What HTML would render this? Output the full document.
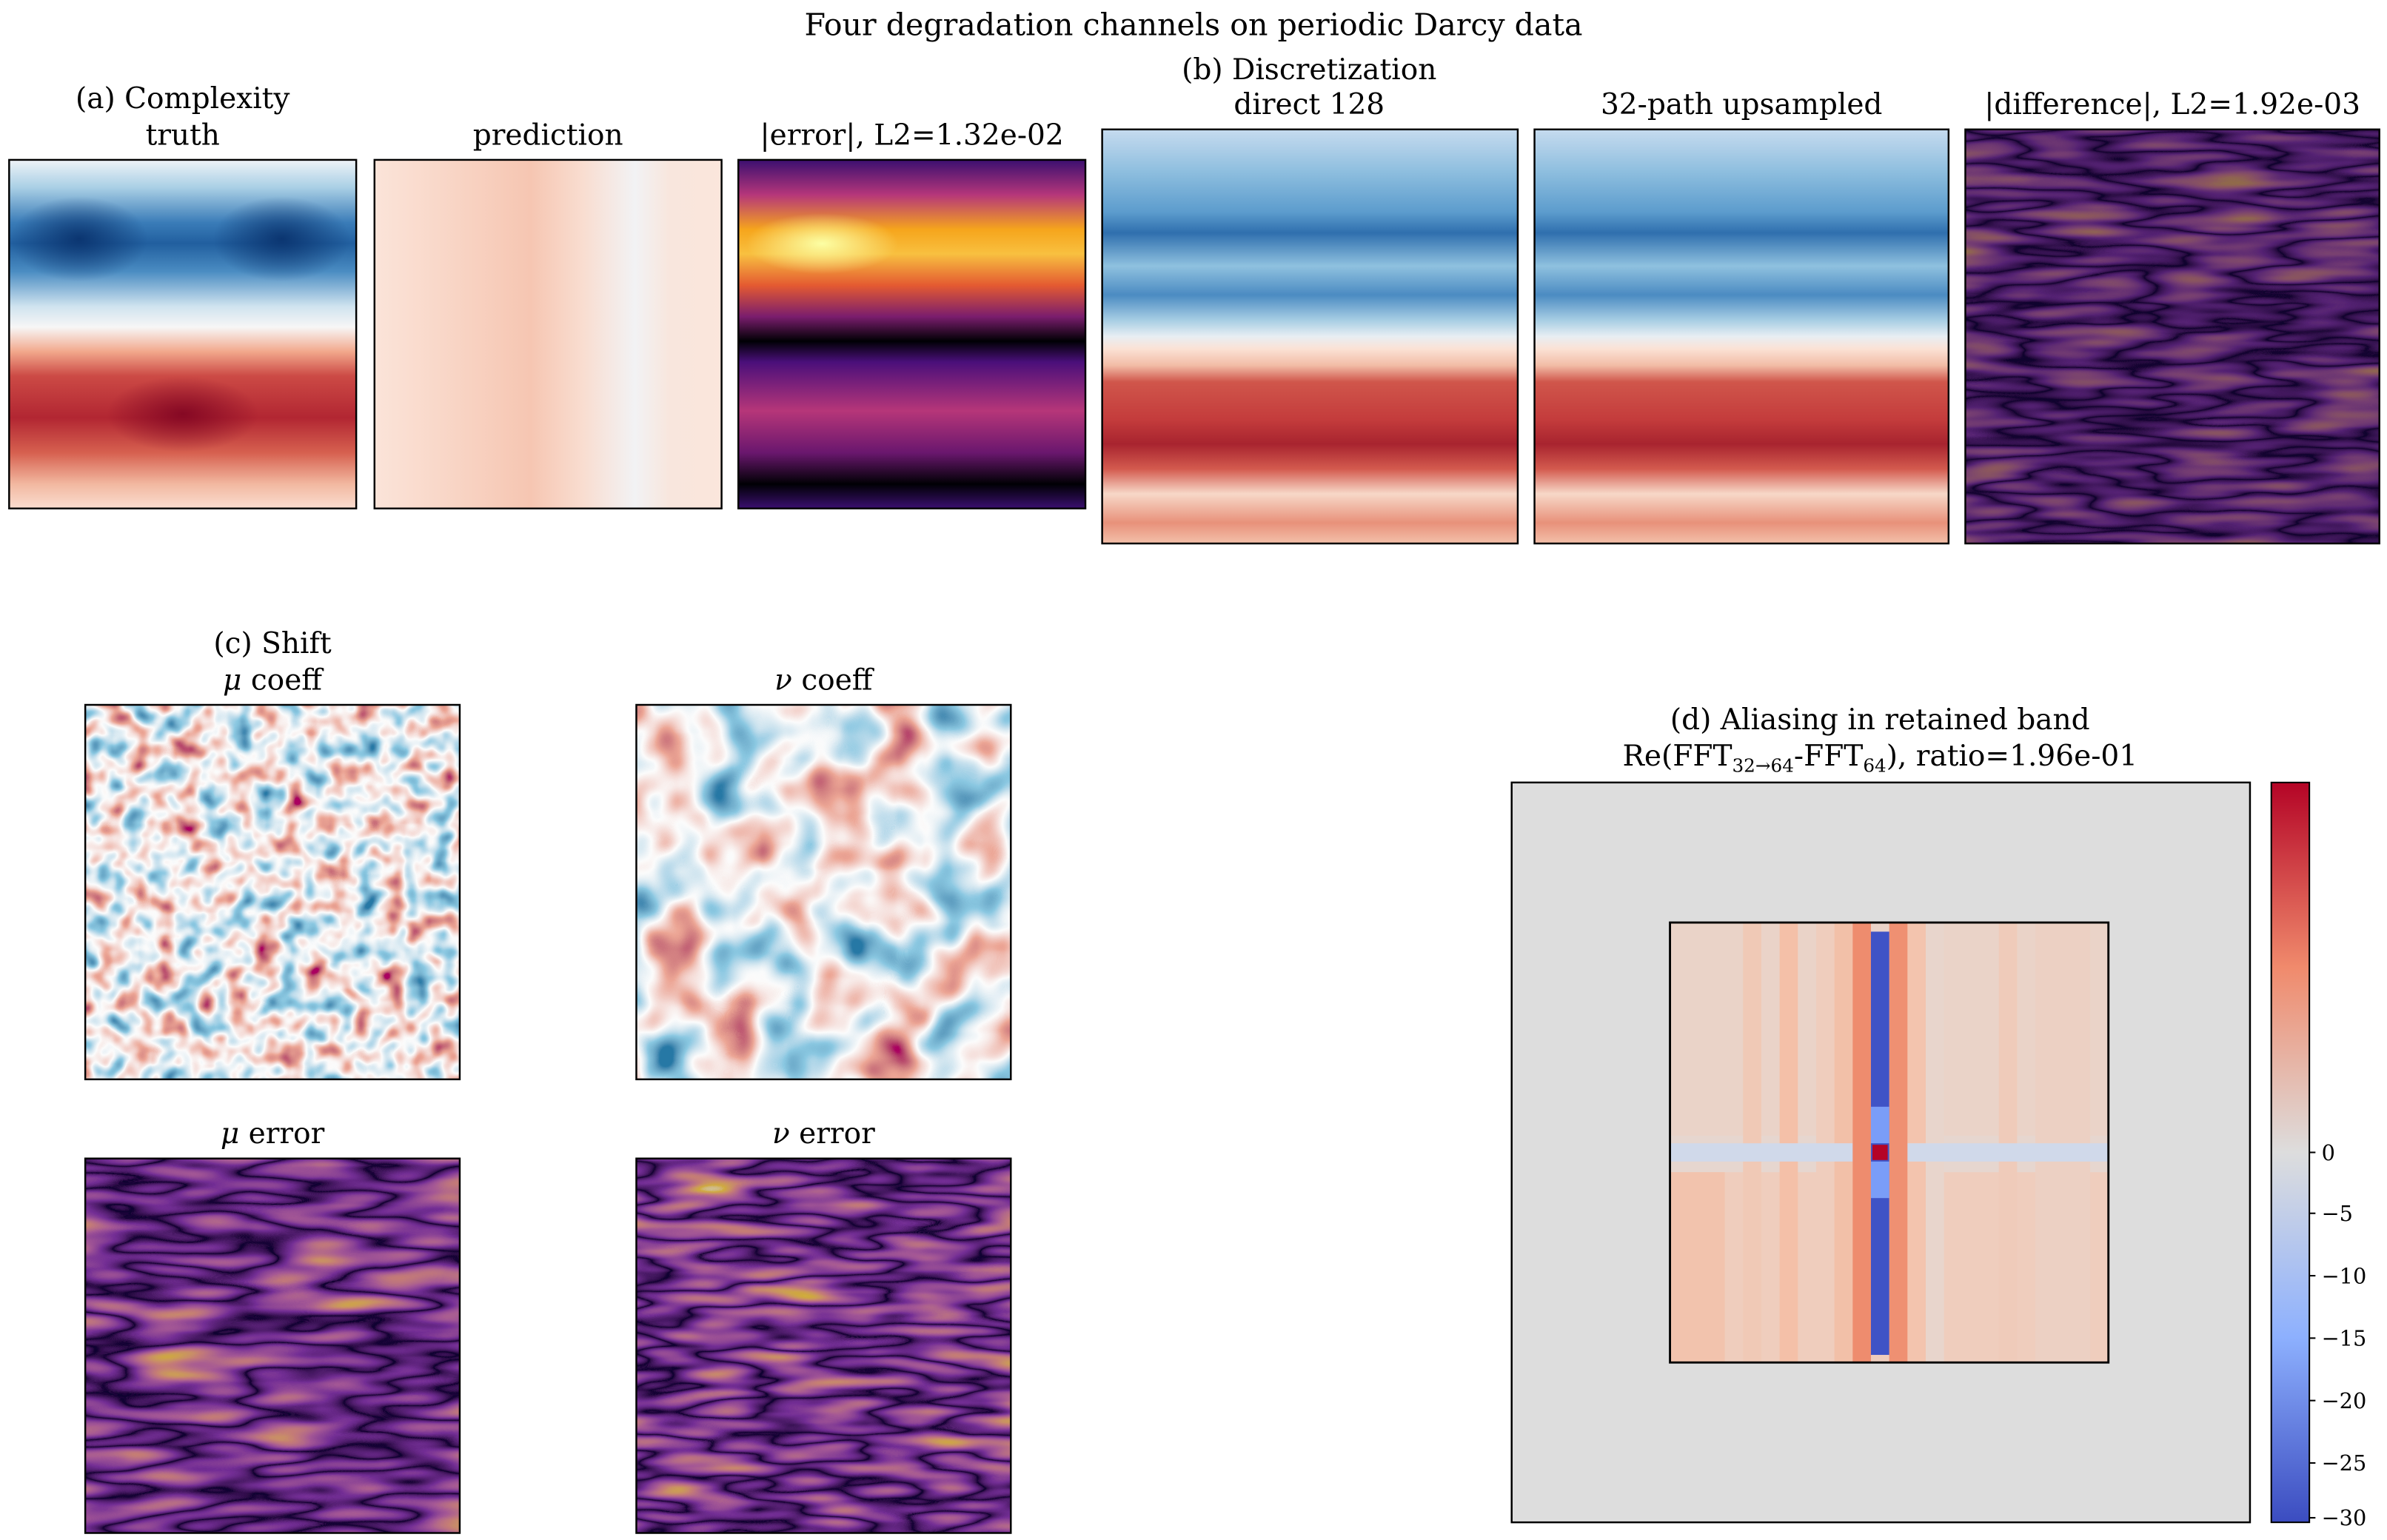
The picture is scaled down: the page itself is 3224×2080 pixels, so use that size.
<!DOCTYPE html>
<html><head><meta charset="utf-8"><style>html,body{margin:0;padding:0;background:#fff}svg{display:block}text{font-family:"DejaVu Serif","Liberation Serif",serif;fill:#000}</style></head><body>
<svg width="3224" height="2080" viewBox="0 0 1568 1011.6" xmlns="http://www.w3.org/2000/svg">
<defs>
<linearGradient id="gTruth" x1="0" y1="0" x2="0" y2="1">
<stop offset="0" stop-color="#eef3f7"/><stop offset="0.08" stop-color="#a9cfe5"/><stop offset="0.18" stop-color="#3a7cb8"/><stop offset="0.24" stop-color="#215f9f"/><stop offset="0.32" stop-color="#4a8cc2"/><stop offset="0.42" stop-color="#cfe3ef"/><stop offset="0.48" stop-color="#f7f6f6"/><stop offset="0.55" stop-color="#f2a88c"/><stop offset="0.62" stop-color="#cc4a45"/><stop offset="0.74" stop-color="#b22632"/><stop offset="0.84" stop-color="#d6604f"/><stop offset="0.93" stop-color="#f2b8a0"/><stop offset="1" stop-color="#faddd0"/></linearGradient>
<radialGradient id="bBlue"><stop offset="0" stop-color="#08306b" stop-opacity="0.9"/><stop offset="1" stop-color="#08306b" stop-opacity="0"/></radialGradient>
<radialGradient id="bRed"><stop offset="0" stop-color="#7a0020" stop-opacity="0.8"/><stop offset="1" stop-color="#7a0020" stop-opacity="0"/></radialGradient>
<linearGradient id="gPred" x1="0" y1="0" x2="1" y2="0">
<stop offset="0" stop-color="#fbe4d9"/><stop offset="0.45" stop-color="#f6c6b2"/><stop offset="0.6" stop-color="#f9ddd0"/><stop offset="0.75" stop-color="#f2f2f4"/><stop offset="0.85" stop-color="#f8e6dd"/><stop offset="1" stop-color="#fbe6dc"/></linearGradient>
<linearGradient id="gErr" x1="0" y1="0" x2="0" y2="1">
<stop offset="0" stop-color="#3b0f70"/><stop offset="0.1" stop-color="#b5367a"/><stop offset="0.2" stop-color="#f6a51c"/><stop offset="0.27" stop-color="#f8c040"/><stop offset="0.36" stop-color="#e45a31"/><stop offset="0.45" stop-color="#7a1d6d"/><stop offset="0.52" stop-color="#000004"/><stop offset="0.58" stop-color="#4a0f7a"/><stop offset="0.72" stop-color="#b63679"/><stop offset="0.84" stop-color="#6a176e"/><stop offset="0.93" stop-color="#000004"/><stop offset="1" stop-color="#3b0f70"/></linearGradient>
<radialGradient id="bYel"><stop offset="0" stop-color="#fcffa4"/><stop offset="1" stop-color="#fcffa4" stop-opacity="0"/></radialGradient>
<linearGradient id="gDisc" x1="0" y1="0" x2="0" y2="1">
<stop offset="0" stop-color="#c6dbef"/><stop offset="0.1" stop-color="#8fbfdf"/><stop offset="0.2" stop-color="#5c9ccd"/><stop offset="0.25" stop-color="#2f6fae"/><stop offset="0.33" stop-color="#8fc1df"/><stop offset="0.4" stop-color="#4b8bc2"/><stop offset="0.46" stop-color="#a6cde3"/><stop offset="0.5" stop-color="#e8eef3"/><stop offset="0.53" stop-color="#fbe2d5"/><stop offset="0.57" stop-color="#f2bca6"/><stop offset="0.61" stop-color="#d0564b"/><stop offset="0.7" stop-color="#c43c3c"/><stop offset="0.76" stop-color="#a8242f"/><stop offset="0.82" stop-color="#d35a4e"/><stop offset="0.88" stop-color="#f7d8c8"/><stop offset="0.95" stop-color="#e8917a"/><stop offset="1" stop-color="#f3c0aa"/></linearGradient>
<linearGradient id="gCb" x1="0" y1="0" x2="0" y2="1">
<stop offset="0" stop-color="#b40426"/><stop offset="0.25" stop-color="#f08a6c"/><stop offset="0.5" stop-color="#dddddd"/><stop offset="0.75" stop-color="#8db0fe"/><stop offset="1" stop-color="#3b4cc0"/></linearGradient>
<filter id="fRdBu1" x="0" y="0" width="100%" height="100%"><feTurbulence type="fractalNoise" baseFrequency="0.06" numOctaves="2" seed="4"/><feColorMatrix type="matrix" values="1.5 0 0 0 -0.25 1.5 0 0 0 -0.25 1.5 0 0 0 -0.25 0 0 0 0 1"/><feComponentTransfer><feFuncR type="table" tableValues="0.02 0.26 0.97 0.84 0.40"/><feFuncG type="table" tableValues="0.19 0.58 0.97 0.38 0.0"/><feFuncB type="table" tableValues="0.38 0.76 0.97 0.30 0.12"/></feComponentTransfer></filter>
<filter id="fRdBu2" x="0" y="0" width="100%" height="100%"><feTurbulence type="fractalNoise" baseFrequency="0.028" numOctaves="2" seed="9"/><feColorMatrix type="matrix" values="1.5 0 0 0 -0.25 1.5 0 0 0 -0.25 1.5 0 0 0 -0.25 0 0 0 0 1"/><feComponentTransfer><feFuncR type="table" tableValues="0.02 0.26 0.97 0.84 0.40"/><feFuncG type="table" tableValues="0.19 0.58 0.97 0.38 0.0"/><feFuncB type="table" tableValues="0.38 0.76 0.97 0.30 0.12"/></feComponentTransfer></filter>
<filter id="fInf1" x="0" y="0" width="100%" height="100%"><feTurbulence type="fractalNoise" baseFrequency="0.012 0.06" numOctaves="2" seed="2"/><feColorMatrix type="matrix" values="1.15 0 0 0 -0.075 1.15 0 0 0 -0.075 1.15 0 0 0 -0.075 0 0 0 0 1"/><feComponentTransfer><feFuncR type="table" tableValues=".99 .99 .87 .58 .26 0 .26 .58 .87 .99 .99"/><feFuncG type="table" tableValues="1 .65 .32 .15 .04 0 .04 .15 .32 .65 1"/><feFuncB type="table" tableValues=".64 .04 .23 .40 .41 .02 .41 .40 .23 .04 .64"/></feComponentTransfer></filter>
<filter id="fInf2" x="0" y="0" width="100%" height="100%"><feTurbulence type="fractalNoise" baseFrequency="0.014 0.07" numOctaves="2" seed="7"/><feColorMatrix type="matrix" values="1.15 0 0 0 -0.075 1.15 0 0 0 -0.075 1.15 0 0 0 -0.075 0 0 0 0 1"/><feComponentTransfer><feFuncR type="table" tableValues=".99 .99 .87 .58 .26 0 .26 .58 .87 .99 .99"/><feFuncG type="table" tableValues="1 .65 .32 .15 .04 0 .04 .15 .32 .65 1"/><feFuncB type="table" tableValues=".64 .04 .23 .40 .41 .02 .41 .40 .23 .04 .64"/></feComponentTransfer></filter>
<filter id="fInf3" x="0" y="0" width="100%" height="100%"><feTurbulence type="fractalNoise" baseFrequency="0.012 0.08" numOctaves="2" seed="13"/><feColorMatrix type="matrix" values="1.0 0 0 0 0 1.0 0 0 0 0 1.0 0 0 0 0 0 0 0 0 1"/><feComponentTransfer><feFuncR type="table" tableValues=".99 .99 .87 .58 .26 0 .26 .58 .87 .99 .99"/><feFuncG type="table" tableValues="1 .65 .32 .15 .04 0 .04 .15 .32 .65 1"/><feFuncB type="table" tableValues=".64 .04 .23 .40 .41 .02 .41 .40 .23 .04 .64"/></feComponentTransfer></filter>
<clipPath id="cT"><rect x="6" y="105" width="228" height="229"/></clipPath>
<clipPath id="cE"><rect x="485" y="105" width="228" height="229"/></clipPath>
</defs>

<text x="784" y="23" font-size="20" text-anchor="middle">Four degradation channels on periodic Darcy data</text>

<text x="120" y="71" font-size="19" text-anchor="middle">(a) Complexity</text>
<text x="120" y="95" font-size="19" text-anchor="middle">truth</text>
<g clip-path="url(#cT)">
<rect x="6" y="105" width="228" height="229" fill="url(#gTruth)"/>
<ellipse cx="52" cy="157" rx="45" ry="28" fill="url(#bBlue)"/>
<ellipse cx="185" cy="157" rx="45" ry="28" fill="url(#bBlue)"/>
<ellipse cx="120" cy="272" rx="50" ry="25" fill="url(#bRed)"/>
</g>
<rect x="6" y="105" width="228" height="229" fill="none" stroke="#000" stroke-width="1.2"/>
<text x="360" y="95" font-size="19" text-anchor="middle">prediction</text>
<rect x="246" y="105" width="228" height="229" fill="url(#gPred)" stroke="#000" stroke-width="1.2"/>
<text x="599" y="95" font-size="19" text-anchor="middle">|error|, L2=1.32e-02</text>
<g clip-path="url(#cE)">
<rect x="485" y="105" width="228" height="229" fill="url(#gErr)"/>
<ellipse cx="540" cy="160" rx="50" ry="20" fill="url(#bYel)"/>
</g>
<rect x="485" y="105" width="228" height="229" fill="none" stroke="#000" stroke-width="1.2"/>

<text x="860" y="52" font-size="19" text-anchor="middle">(b) Discretization</text>
<text x="860" y="75" font-size="19" text-anchor="middle">direct 128</text>
<rect x="724" y="85" width="273" height="272" fill="url(#gDisc)" stroke="#000" stroke-width="1.2"/>
<text x="1144" y="75" font-size="19" text-anchor="middle">32-path upsampled</text>
<rect x="1008" y="85" width="272" height="272" fill="url(#gDisc)" stroke="#000" stroke-width="1.2"/>
<text x="1427" y="75" font-size="19" text-anchor="middle">|difference|, L2=1.92e-03</text>
<rect x="1291" y="85" width="272" height="272" filter="url(#fInf3)"/>
<rect x="1291" y="85" width="272" height="272" fill="#12072e" opacity="0.45"/>
<rect x="1291" y="85" width="272" height="272" fill="none" stroke="#000" stroke-width="1.2"/>

<text x="179" y="429" font-size="19" text-anchor="middle">(c) Shift</text>
<text x="179" y="453" font-size="19" text-anchor="middle"><tspan font-style="italic">μ</tspan> coeff</text>
<rect x="56" y="463" width="246" height="246" filter="url(#fRdBu1)"/>
<rect x="56" y="463" width="246" height="246" fill="none" stroke="#000" stroke-width="1.2"/>
<text x="541" y="453" font-size="19" text-anchor="middle"><tspan font-style="italic">ν</tspan> coeff</text>
<rect x="418" y="463" width="246" height="246" filter="url(#fRdBu2)"/>
<rect x="418" y="463" width="246" height="246" fill="none" stroke="#000" stroke-width="1.2"/>
<text x="179" y="751" font-size="19" text-anchor="middle"><tspan font-style="italic">μ</tspan> error</text>
<rect x="56" y="761" width="246" height="246" filter="url(#fInf1)"/>
<rect x="56" y="761" width="246" height="246" fill="#1b0c41" opacity="0.2"/>
<rect x="56" y="761" width="246" height="246" fill="none" stroke="#000" stroke-width="1.2"/>
<text x="541" y="751" font-size="19" text-anchor="middle"><tspan font-style="italic">ν</tspan> error</text>
<rect x="418" y="761" width="246" height="246" filter="url(#fInf2)"/>
<rect x="418" y="761" width="246" height="246" fill="#1b0c41" opacity="0.2"/>
<rect x="418" y="761" width="246" height="246" fill="none" stroke="#000" stroke-width="1.2"/>

<text x="1235" y="479" font-size="19" text-anchor="middle">(d) Aliasing in retained band</text>
<text x="1235" y="503" font-size="19" text-anchor="middle">Re(FFT<tspan font-size="12" dy="4">32→64</tspan><tspan dy="-4">-FFT</tspan><tspan font-size="12" dy="4">64</tspan><tspan dy="-4">), ratio=1.96e-01</tspan></text>
<rect x="993" y="514" width="485" height="486" fill="#dddddd" stroke="#000" stroke-width="1.2"/>
<g>
<rect x="1097" y="606" width="288" height="289" fill="#e6d6cf"/>
<rect x="1097" y="606" width="288" height="140" fill="#ead3c8"/>
<rect x="1097" y="770" width="288" height="125" fill="#efcdbd"/>
<rect x="1097" y="770" width="36" height="125" fill="#f2c3ad"/>
<rect x="1145" y="606" width="12" height="289" fill="#f0c9b6"/>
<rect x="1169" y="606" width="12" height="289" fill="#f4c0a8"/>
<rect x="1193" y="606" width="12" height="289" fill="#efcdbd"/>
<rect x="1205" y="606" width="12" height="289" fill="#f2c0a8"/>
<rect x="1253" y="606" width="12" height="289" fill="#f3c4ae"/>
<rect x="1265" y="606" width="12" height="289" fill="#e8d5cc"/>
<rect x="1313" y="606" width="12" height="289" fill="#efcbba"/>
<rect x="1337" y="606" width="36" height="289" fill="#ecd0c3"/>
<rect x="1097" y="751" width="288" height="12" fill="#d0d9ea"/>
<rect x="1217" y="606" width="12" height="289" fill="#ee8c6e"/>
<rect x="1241" y="606" width="12" height="289" fill="#ef9072"/>
<rect x="1229" y="612" width="12" height="278" fill="#3f53c6"/>
<rect x="1229" y="727" width="12" height="24" fill="#7a9df8"/>
<rect x="1229" y="763" width="12" height="24" fill="#7a9df8"/>
<rect x="1230" y="752" width="10" height="10" fill="#b40426"/>
</g>
<rect x="1097" y="606" width="288" height="289" fill="none" stroke="#000" stroke-width="1.4"/>
<rect x="1492" y="514" width="25" height="486" fill="url(#gCb)" stroke="#000" stroke-width="1"/>
<g stroke="#000" stroke-width="1">
<line x1="1517" y1="757" x2="1521" y2="757"/><line x1="1517" y1="797" x2="1521" y2="797"/><line x1="1517" y1="838" x2="1521" y2="838"/><line x1="1517" y1="879" x2="1521" y2="879"/><line x1="1517" y1="920" x2="1521" y2="920"/><line x1="1517" y1="961" x2="1521" y2="961"/><line x1="1517" y1="997" x2="1521" y2="997"/>
</g>
<g font-size="14">
<text x="1525" y="762">0</text><text x="1525" y="802">−5</text><text x="1525" y="843">−10</text><text x="1525" y="884">−15</text><text x="1525" y="925">−20</text><text x="1525" y="966">−25</text><text x="1525" y="1002">−30</text>
</g>
</svg>
</body></html>
